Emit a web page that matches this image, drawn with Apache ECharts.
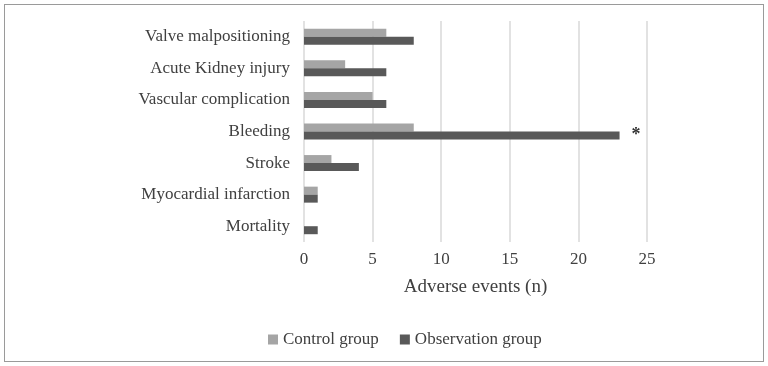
<!DOCTYPE html>
<html lang="en">
<head>
    <meta charset="UTF-8">
    <title>Adverse events</title>
    <script src="https://cdn.jsdelivr.net/npm/echarts@6/dist/echarts.min.js"></script>
    <style>
        html, body { margin: 0; padding: 0; background: #fff; }
        #frame { position: absolute; left: 4px; top: 4px; width: 758px; height: 356px; border: 1px solid #9a9a9a; }
        #main { position: absolute; left: 0; top: 0; width: 768px; height: 366px; }
    </style>
</head>
<body>
<div id="frame"></div>
<div id="main"></div>
<script>
    var categories = ['Valve malpositioning', 'Acute Kidney injury', 'Vascular complication',
                      'Bleeding', 'Stroke', 'Myocardial infarction', 'Mortality'];
    var controlGroup = [6, 3, 5, 8, 2, 1, 0];
    var observationGroup = [8, 6, 6, 23, 4, 1, 1];
    var starred = 'Bleeding';   // significant difference marked with *

    var font = 'Liberation Serif';
    var myChart = echarts.init(document.getElementById('main'));

    var obsData = observationGroup.map(function (v, i) {
        if (categories[i] !== starred) return v;
        return {
            value: v,
            label: { show: true, position: 'right', formatter: '*', distance: 12,
                     fontFamily: font, fontSize: 18, color: '#333', fontWeight: 'bold' }
        };
    });

    myChart.setOption({
        animation: false,
        textStyle: { fontFamily: font },
        grid: { left: 304, right: 121, top: 21, bottom: 124 },
        legend: {
            left: 263, top: 326,
            itemWidth: 10, itemHeight: 10, itemGap: 21,
            icon: 'rect',
            textStyle: { fontFamily: font, fontSize: 17, color: '#404040' },
            data: ['Control group', 'Observation group']
        },
        xAxis: {
            type: 'value',
            min: 0, max: 25, interval: 5,
            name: 'Adverse events (n)',
            nameLocation: 'middle',
            nameGap: 36,
            nameTextStyle: { fontFamily: font, fontSize: 19, color: '#404040' },
            axisLine: { show: false },
            axisTick: { show: false },
            axisLabel: { fontFamily: font, fontSize: 17, color: '#404040', margin: 9 },
            splitLine: { lineStyle: { color: '#d9d9d9', width: 1.5 } }
        },
        yAxis: {
            type: 'category',
            inverse: true,
            data: categories,
            axisLine: { show: false },
            axisTick: { show: false },
            axisLabel: { fontFamily: font, fontSize: 17, color: '#404040', margin: 14 }
        },
        series: [
            {
                name: 'Control group', type: 'bar', data: controlGroup,
                barWidth: 8, barGap: '0%',
                itemStyle: { color: '#a5a5a5' }
            },
            {
                name: 'Observation group', type: 'bar', data: obsData,
                barWidth: 8, barGap: '0%',
                itemStyle: { color: '#595959' }
            }
        ]
    });
</script>
</body>
</html>
